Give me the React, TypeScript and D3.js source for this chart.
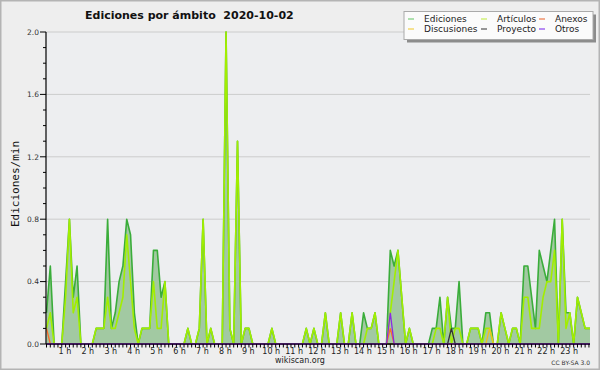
import React from "react";
import * as d3 from "d3";

// 10-minute slots of 2020-10-02 (edits per minute)
const ediciones = [
  0.2, 0.5, 0, 0, 0, 0.4, 0.8, 0.3, 0.5, 0, 0, 0,
  0, 0.1, 0.1, 0.1, 0.8, 0.1, 0.2, 0.4, 0.5, 0.8, 0.7, 0.2,
  0, 0.1, 0.1, 0.1, 0.6, 0.6, 0.3, 0.4, 0, 0, 0, 0,
  0, 0.1, 0, 0, 0.1, 0.8, 0, 0.1, 0, 0, 0, 2.0,
  0.1, 0, 1.3, 0, 0.1, 0.1, 0, 0, 0, 0, 0, 0.1,
  0, 0, 0, 0, 0, 0, 0, 0, 0.1, 0, 0.1, 0,
  0, 0.2, 0, 0, 0, 0.2, 0, 0, 0.2, 0, 0, 0.2,
  0.1, 0.1, 0.2, 0, 0, 0, 0.6, 0.5, 0.6, 0.3, 0, 0.1,
  0, 0, 0, 0, 0, 0.1, 0.1, 0.3, 0, 0.3, 0.1, 0.1,
  0.4, 0, 0, 0.1, 0.1, 0.1, 0, 0.2, 0.2, 0, 0, 0.2,
  0.1, 0, 0.1, 0.1, 0, 0.5, 0.5, 0.3, 0.1, 0.6, 0.5, 0.4,
  0.6, 0.8, 0, 0.8, 0.2, 0.2, 0, 0.3, 0.2, 0.1, 0.1, 0.1,
];
const articulos = [
  0.1, 0.2, 0, 0, 0, 0.3, 0.8, 0.2, 0.3, 0, 0, 0,
  0, 0.1, 0.1, 0.1, 0.3, 0.1, 0.1, 0.2, 0.3, 0.7, 0.4, 0.1,
  0, 0.1, 0.1, 0.1, 0.4, 0.1, 0.1, 0.4, 0, 0, 0, 0,
  0, 0.1, 0, 0, 0.1, 0.8, 0, 0.1, 0, 0, 0, 2.0,
  0.1, 0, 1.3, 0, 0.1, 0.1, 0, 0, 0, 0, 0, 0.1,
  0, 0, 0, 0, 0, 0, 0, 0, 0.1, 0, 0.1, 0,
  0, 0.2, 0, 0, 0, 0.2, 0, 0, 0.2, 0, 0, 0,
  0.1, 0.1, 0.2, 0, 0, 0, 0.2, 0.4, 0.6, 0.3, 0, 0.1,
  0, 0, 0, 0, 0, 0, 0.1, 0.1, 0, 0.3, 0, 0.1,
  0.1, 0, 0, 0.1, 0.1, 0.1, 0, 0.1, 0.1, 0, 0, 0.2,
  0.1, 0, 0.1, 0.1, 0, 0.3, 0.3, 0.1, 0.1, 0.1, 0.3, 0.4,
  0.4, 0.6, 0, 0.8, 0.1, 0.2, 0, 0.3, 0.2, 0.1, 0.1, 0.1,
];
const anexos = [
  0.1, 0, 0, 0, 0, 0, 0, 0, 0, 0, 0, 0,
  0, 0, 0, 0, 0, 0, 0, 0, 0, 0, 0, 0,
  0, 0, 0, 0, 0, 0, 0, 0, 0, 0, 0, 0,
  0, 0, 0, 0, 0, 0, 0, 0, 0, 0, 0, 0,
  0, 0, 0, 0, 0, 0, 0, 0, 0, 0, 0, 0,
  0, 0, 0, 0, 0, 0, 0, 0, 0, 0, 0, 0,
  0, 0, 0, 0, 0, 0, 0, 0, 0, 0, 0, 0,
  0, 0, 0, 0, 0, 0, 0.1, 0, 0, 0, 0, 0,
  0, 0, 0, 0, 0, 0, 0, 0, 0, 0, 0, 0,
  0, 0, 0, 0, 0, 0, 0, 0, 0, 0, 0, 0,
  0, 0, 0, 0, 0, 0, 0, 0, 0, 0, 0, 0,
  0, 0, 0, 0, 0, 0, 0, 0, 0, 0, 0, 0,
];
const discusiones = [
  0, 0, 0, 0, 0, 0, 0, 0, 0, 0, 0, 0,
  0, 0, 0, 0, 0, 0, 0, 0, 0, 0, 0, 0,
  0, 0, 0, 0, 0, 0, 0, 0, 0, 0, 0, 0,
  0, 0, 0, 0, 0, 0, 0, 0, 0, 0, 0, 0,
  0, 0, 0, 0, 0, 0, 0, 0, 0, 0, 0, 0,
  0, 0, 0, 0, 0, 0, 0, 0, 0, 0, 0, 0,
  0, 0, 0, 0, 0, 0, 0, 0, 0, 0, 0, 0,
  0, 0, 0, 0, 0, 0, 0, 0, 0, 0, 0, 0,
  0, 0, 0, 0, 0, 0, 0, 0, 0, 0, 0, 0,
  0, 0, 0, 0, 0, 0, 0, 0, 0.1, 0, 0, 0,
  0, 0, 0, 0, 0, 0, 0, 0, 0, 0, 0, 0,
  0, 0, 0, 0, 0, 0, 0, 0, 0, 0, 0, 0,
];
const proyecto = [
  0, 0, 0, 0, 0, 0, 0, 0, 0, 0, 0, 0,
  0, 0, 0, 0, 0, 0, 0, 0, 0, 0, 0, 0,
  0, 0, 0, 0, 0, 0, 0, 0, 0, 0, 0, 0,
  0, 0, 0, 0, 0, 0, 0, 0, 0, 0, 0, 0,
  0, 0, 0, 0, 0, 0, 0, 0, 0, 0, 0, 0,
  0, 0, 0, 0, 0, 0, 0, 0, 0, 0, 0, 0,
  0, 0, 0, 0, 0, 0, 0, 0, 0, 0, 0, 0,
  0, 0, 0, 0, 0, 0, 0, 0, 0, 0, 0, 0,
  0, 0, 0, 0, 0, 0, 0, 0, 0, 0, 0.1, 0,
  0, 0, 0, 0, 0, 0, 0, 0, 0, 0, 0, 0,
  0, 0, 0, 0, 0, 0, 0, 0, 0, 0, 0, 0,
  0, 0, 0, 0, 0, 0, 0, 0, 0, 0, 0, 0,
];
const otros = [
  0, 0, 0, 0, 0, 0, 0, 0, 0, 0, 0, 0,
  0, 0, 0, 0, 0, 0, 0, 0, 0, 0, 0, 0,
  0, 0, 0, 0, 0, 0, 0, 0, 0, 0, 0, 0,
  0, 0, 0, 0, 0, 0, 0, 0, 0, 0, 0, 0,
  0, 0, 0, 0, 0, 0, 0, 0, 0, 0, 0, 0,
  0, 0, 0, 0, 0, 0, 0, 0, 0, 0, 0, 0,
  0, 0, 0, 0, 0, 0, 0, 0, 0, 0, 0, 0,
  0, 0, 0, 0, 0, 0, 0.2, 0, 0, 0, 0, 0,
  0, 0, 0, 0, 0, 0, 0, 0, 0, 0, 0, 0,
  0, 0, 0, 0, 0, 0, 0, 0, 0, 0, 0, 0,
  0, 0, 0, 0, 0, 0, 0, 0, 0, 0, 0, 0,
  0, 0, 0, 0, 0, 0, 0, 0, 0, 0, 0, 0,
];

const hourLabels = d3.range(1, 24).map((h) => `${h} h`);
const yTickLabels = ["0.0", "0.4", "0.8", "1.2", "1.6", "2.0"];

const legendItems = [
  { name: "Ediciones", color: "#7ccf7c", col: 0, row: 0 },
  { name: "Discusiones", color: "#f2d04a", col: 0, row: 1 },
  { name: "Artículos", color: "#c8ee5a", col: 1, row: 0 },
  { name: "Proyecto", color: "#555555", col: 1, row: 1 },
  { name: "Anexos", color: "#ee7a4a", col: 2, row: 0 },
  { name: "Otros", color: "#8a44ee", col: 2, row: 1 },
];

const FONT = "'DejaVu Sans', sans-serif";

export default function App() {
  const x = d3.scaleLinear().domain([0, 142]).range([46.5, 588.94]);
  const y = d3.scaleLinear().domain([0, 2]).range([344, 32]);
  const left = 46;
  const right = 590;

  const lineGen = d3
    .line<number>()
    .x((_, i) => x(i))
    .y((d) => y(d));
  const areaGen = d3
    .area<number>()
    .x((_, i) => x(i))
    .y0(y(0))
    .y1((d) => y(d));

  const minorTicks = d3.range(0, 21).map((k) => k / 10);
  const slotTicks = d3.range(0, 143);
  const legendCols = [404, 477, 535];

  const series = [
    { data: anexos, color: "#ff6a2a" },
    { data: discusiones, color: "#f0c020" },
    { data: proyecto, color: "#333333" },
    { data: otros, color: "#8a2be2" },
  ];

  return (
    <svg
      width={600}
      height={370}
      style={{ position: "absolute", left: 0, top: 0 }}
      fontFamily={FONT}
    >
      <defs>
        <clipPath id="plotclip">
          <rect x={left} y={20} width={right - left} height={330} />
        </clipPath>
      </defs>
      <rect x={0} y={0} width={600} height={370} fill="#b4b4b4" />
      <rect x={1.5} y={1.5} width={597} height={367} fill="#eeeeee" />
      <rect x={left} y={y(2)} width={right - left} height={y(0) - y(2)} fill="#edeef0" />

      {/* grid */}
      {yTickLabels.slice(1).map((t) => (
        <line
          key={t}
          x1={left}
          x2={right}
          y1={y(+t)}
          y2={y(+t)}
          stroke="#cccccc"
          strokeWidth={1}
        />
      ))}

      {/* data */}
      <g clipPath="url(#plotclip)">
        <path d={areaGen(ediciones) || ""} fill="#a2c9a2" />
        <path d={lineGen(ediciones) || ""} fill="none" stroke="#3aad3a" strokeWidth={1.6} strokeLinejoin="round" />
        <path d={lineGen(articulos) || ""} fill="none" stroke="#a2ee00" strokeWidth={1.6} strokeLinejoin="round" />
        {series.map((s, k) => (
          <path key={k} d={lineGen(s.data) || ""} fill="none" stroke={s.color} strokeWidth={1.3} />
        ))}
      </g>

      {/* y axis */}
      <line x1={left} x2={left} y1={y(2)} y2={y(0)} stroke="#000" strokeWidth={1.2} />
      {minorTicks.map((v) => {
        const major = Math.round(v * 10) % 4 === 0;
        return (
          <line
            key={v}
            x1={major ? left - 6 : left - 3}
            x2={left}
            y1={y(v)}
            y2={y(v)}
            stroke="#000"
            strokeWidth={1}
          />
        );
      })}
      {yTickLabels.map((t) => (
        <text key={t} x={left - 7} y={y(+t) + 2.7} fontSize={7.5} textAnchor="end" fill="#333">
          {t}
        </text>
      ))}
      <text
        transform={`translate(18.5,184) rotate(-90)`}
        fontSize={11}
        fontFamily="'DejaVu Sans Mono', monospace"
        textAnchor="middle"
        fill="#111"
      >
        Ediciones/min
      </text>

      {/* x axis */}
      <line x1={left} x2={right} y1={y(0)} y2={y(0)} stroke="#000" strokeWidth={1.2} />
      {slotTicks.map((i) => (
        <line key={i} x1={x(i)} x2={x(i)} y1={y(0)} y2={y(0) + 3.5} stroke="#000" strokeWidth={1} />
      ))}
      {hourLabels.map((lab, k) => (
        <text key={lab} x={x((k + 1) * 6) - 4.5} y={354} fontSize={8} textAnchor="middle" fill="#222">
          {lab}
        </text>
      ))}

      {/* title */}
      <text x={85} y={18.5} fontSize={11} fontWeight="bold" fill="#111">
        {"Ediciones por ámbito\u00a0\u00a02020-10-02"}
      </text>

      {/* legend */}
      <rect x={407} y={14.5} width={189} height={28} fill="#8c8c8c" />
      <rect x={404} y={11.5} width={189} height={28} fill="#fbfbfb" stroke="#aaaaaa" strokeWidth={1} />
      {legendItems.map((it) => {
        const lx = legendCols[it.col];
        const ly = 19 + it.row * 10;
        return (
          <g key={it.name}>
            <line x1={lx + 4} x2={lx + 10} y1={ly} y2={ly} stroke={it.color} strokeWidth={1.2} />
            <text x={lx + 20} y={ly + 3.3} fontSize={9} fill="#222">
              {it.name}
            </text>
          </g>
        );
      })}

      {/* footer */}
      <text x={300} y={362.5} fontSize={8} textAnchor="middle" fill="#222">
        wikiscan.org
      </text>
      <text x={590} y={364.5} fontSize={6} textAnchor="end" fill="#333">
        CC BY-SA 3.0
      </text>
    </svg>
  );
}
